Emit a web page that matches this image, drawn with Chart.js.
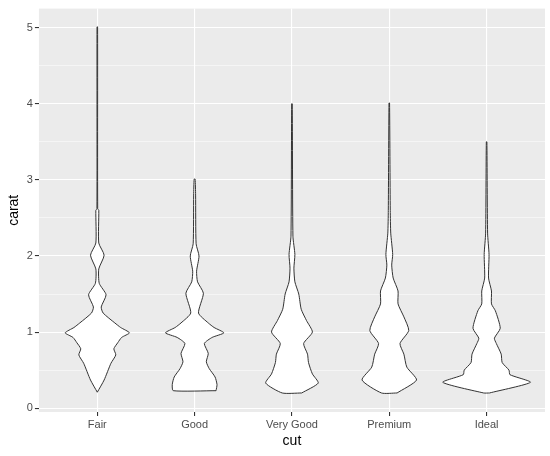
<!DOCTYPE html>
<html>
<head>
<meta charset="utf-8">
<script src="https://cdn.jsdelivr.net/npm/chart.js@4"></script>
<style>
  html, body { margin: 0; padding: 0; background: #fff; }
  #wrap { width: 550px; height: 456px; }
</style>
</head>
<body>
<div id="wrap"><canvas id="c"></canvas></div>
<script>
// ── Data: carat levels and violin half-widths (in category units) ──
const cuts = ['Fair', 'Good', 'Very Good', 'Premium', 'Ideal'];

const fairCarat  = [0.21, 0.37, 0.59, 0.7, 0.78, 0.86, 0.93, 0.99, 1.06, 1.12, 1.25, 1.33, 1.49, 1.64, 1.83, 2.01, 2.17, 2.6, 2.62, 5.01];
const fairWidth  = [0.0,  0.07, 0.14, 0.19, 0.17, 0.21, 0.25, 0.33, 0.24, 0.18, 0.06, 0.04, 0.09, 0.02, 0.015, 0.07, 0.015, 0.015, 0.004, 0.003];

const goodCarat  = [0.23, 0.31, 0.41, 0.52, 0.61, 0.72, 0.85, 0.93, 0.99, 1.06, 1.12, 1.25, 1.51, 1.66, 1.8, 2.0, 2.16, 2.8, 3.01];
const goodWidth  = [0.22, 0.23, 0.21, 0.15, 0.12, 0.14, 0.10, 0.18, 0.30, 0.2, 0.14, 0.04, 0.09, 0.03, 0.02, 0.045, 0.015, 0.01, 0.005];

const vgoodCarat = [0.2, 0.33, 0.45, 0.6, 0.71, 0.85, 1.0, 1.15, 1.3, 1.5, 1.66, 1.84, 2.02, 2.26, 4.0];
const vgoodWidth = [0.1, 0.27, 0.21, 0.17, 0.16, 0.12, 0.21, 0.15, 0.095, 0.07, 0.03, 0.02, 0.03, 0.01, 0.003];

const premCarat  = [0.2, 0.37, 0.54, 0.71, 0.85, 1.02, 1.2, 1.37, 1.54, 1.71, 1.88, 2.02, 2.3, 2.6, 4.01];
const premWidth  = [0.08, 0.28, 0.18, 0.15, 0.11, 0.20, 0.15, 0.09, 0.09, 0.04, 0.025, 0.035, 0.015, 0.01, 0.003];

const idealCarat = [0.2, 0.34, 0.44, 0.5, 0.6, 0.71, 0.85, 0.92, 1.05, 1.28, 1.37, 1.54, 1.71, 2.02, 2.3, 3.5];
const idealWidth = [0.03, 0.45, 0.24, 0.23, 0.16, 0.15, 0.10, 0.08, 0.14, 0.09, 0.05, 0.05, 0.02, 0.025, 0.01, 0.003];

const yTicks = [0, 1, 2, 3, 4, 5];

const violins = [
  [fairCarat, fairWidth],
  [goodCarat, goodWidth],
  [vgoodCarat, vgoodWidth],
  [premCarat, premWidth],
  [idealCarat, idealWidth],
];

// closed outline: up the right side, back down the left
function outline(center, carat, width) {
  const right = carat.map((c, i) => ({ x: center + width[i], y: c }));
  const left  = carat.map((c, i) => ({ x: center - width[i], y: c })).reverse();
  return right.concat(left, [right[0]]);
}

const datasets = violins.map(([carat, width], i) => ({
  label: cuts[i],
  data: outline(i + 1, carat, width),
  borderColor: '#333333',
  borderWidth: 1,
  backgroundColor: '#ffffff',
  fill: 'shape',
  pointRadius: 0,
  tension: 0.2,
}));

// ── Panel background ─────────────────────────────────────────
const panelBg = {
  id: 'panelBg',
  beforeDraw(chart) {
    const { ctx, chartArea: a } = chart;
    ctx.save();
    ctx.fillStyle = '#EBEBEB';
    ctx.fillRect(a.left, a.top, a.right - a.left, a.bottom - a.top);
    ctx.restore();
  }
};

const isMajor = v => Math.abs(v - Math.round(v)) < 1e-6;

new Chart(document.getElementById('c'), {
  type: 'line',
  data: { datasets },
  plugins: [panelBg],
  options: {
    responsive: true,
    maintainAspectRatio: false,
    animation: false,
    layout: { padding: { top: 5, right: 5, left: 2, bottom: 2 } },
    plugins: { legend: { display: false }, tooltip: { enabled: false } },
    scales: {
      x: {
        type: 'linear',
        min: 0.4, max: 5.6,
        afterBuildTicks: ax => { ax.ticks = cuts.map((_, i) => ({ value: i + 1 })); },
        ticks: {
          callback: v => cuts[v - 1],
          color: '#4D4D4D',
          font: { family: 'Arial, Liberation Sans', size: 11 },
          padding: 2,
        },
        grid: { color: '#ffffff', lineWidth: 1.1, tickColor: '#333333', tickLength: 4 },
        border: { display: false },
        title: { display: true, text: 'cut', color: '#000', font: { family: 'Arial, Liberation Sans', size: 14 }, padding: { top: 0 } },
      },
      y: {
        min: -0.05, max: 5.25,
        afterBuildTicks: ax => {
          const t = [];
          yTicks.forEach(v => { t.push({ value: v }); if (v < 5) t.push({ value: v + 0.5 }); });
          ax.ticks = t;
        },
        ticks: {
          callback: v => isMajor(v) ? String(v) : '',
          color: '#4D4D4D',
          font: { family: 'Arial, Liberation Sans', size: 11 },
          padding: 2,
        },
        grid: {
          color: '#ffffff',
          lineWidth: c => isMajor(c.tick.value) ? 1.1 : 0.5,
          tickColor: c => isMajor(c.tick.value) ? '#333333' : 'rgba(0,0,0,0)',
          tickLength: 4,
        },
        border: { display: false },
        title: { display: true, text: 'carat', color: '#000', font: { family: 'Arial, Liberation Sans', size: 14 }, padding: { bottom: 2 } },
      },
    },
  },
});
</script>
</body>
</html>
